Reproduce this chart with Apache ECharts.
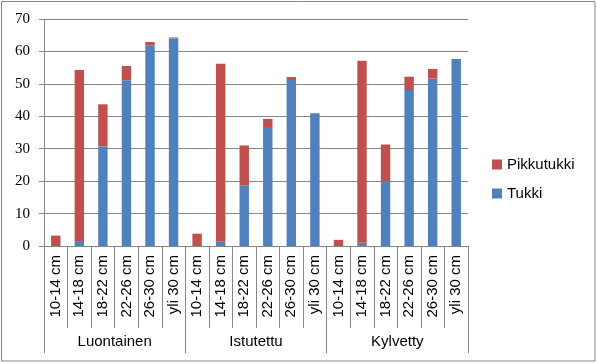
<!DOCTYPE html>
<html>
<head>
<meta charset="utf-8">
<script src="https://cdn.jsdelivr.net/npm/echarts@6/dist/echarts.min.js"></script>
<style>
html,body{margin:0;padding:0;background:#fff;}
#c{width:597px;height:363px;}
</style>
</head>
<body>
<div id="c"></div>
<script>
const sizeClasses = ['10-14 cm','14-18 cm','18-22 cm','22-26 cm','26-30 cm','yli 30 cm'];
const groups = ['Luontainen','Istutettu','Kylvetty'];
const yTicks = [0,10,20,30,40,50,60,70];
// values per group, in sizeClasses order
const tukkiLuontainen = [0, 1.5, 30.7, 51.1, 61.8, 64.1];
const pikkuLuontainen = [3.2, 52.8, 13.0, 4.4, 1.1, 0.2];
const tukkiIstutettu = [0, 1.3, 18.6, 36.4, 51.2, 40.9];
const pikkuIstutettu = [3.8, 54.9, 12.4, 2.8, 0.9, 0];
const tukkiKylvetty = [0, 1.0, 19.9, 48.1, 51.6, 57.7];
const pikkuKylvetty = [1.9, 56.1, 11.4, 4.1, 3.0, 0];

const categories = [].concat(sizeClasses, sizeClasses, sizeClasses);
const tukki = [].concat(tukkiLuontainen, tukkiIstutettu, tukkiKylvetty);
const pikkutukki = [].concat(pikkuLuontainen, pikkuIstutettu, pikkuKylvetty);

const gray = '#868686';
const chart = echarts.init(document.getElementById('c'));
chart.setOption({
  animation: false,
  backgroundColor: '#fff',
  graphic: [{
    type: 'rect', shape: {x: 1.5, y: 1.5, width: 593.5, height: 359.5},
    style: {fill: 'none', stroke: gray, lineWidth: 1}, silent: true, z: -1
  }],
  grid: {left: 44, right: 129, top: 19, bottom: 117},
  legend: {
    orient: 'vertical', left: 492, top: 157, padding: 0,
    itemWidth: 10, itemHeight: 10, itemGap: 14,
    icon: 'rect',
    data: ['Pikkutukki', 'Tukki'],
    textStyle: {fontFamily: 'Liberation Sans', fontSize: 15, color: '#000'}
  },
  xAxis: [{
    type: 'category', data: categories, position: 'bottom',
    axisLine: {lineStyle: {color: gray}},
    axisTick: {show: true, length: 82, lineStyle: {color: gray}},
    axisLabel: {interval: 0, rotate: 90, margin: 9, fontFamily: 'Liberation Sans', fontSize: 15, color: '#000'}
  }, {
    type: 'category', data: groups, position: 'bottom', offset: 0,
    axisLine: {show: false},
    axisTick: {show: true, length: 107, lineStyle: {color: gray}},
    axisLabel: {interval: 0, margin: 88, fontFamily: 'Liberation Sans', fontSize: 15, color: '#000'}
  }],
  yAxis: {
    type: 'value', min: yTicks[0], max: yTicks[yTicks.length - 1], interval: 10,
    axisLine: {show: true, lineStyle: {color: gray}},
    axisTick: {show: true, length: 5, lineStyle: {color: gray}},
    axisLabel: {margin: 14, fontFamily: 'Liberation Serif', fontSize: 15, color: '#000'},
    splitLine: {lineStyle: {color: gray}}
  },
  series: [{
    name: 'Tukki', type: 'bar', stack: 'a', data: tukki, barWidth: '40%',
    itemStyle: {color: '#4F81BD'}
  }, {
    name: 'Pikkutukki', type: 'bar', stack: 'a', data: pikkutukki, barWidth: '40%',
    itemStyle: {color: '#C0504D'}
  }]
});
</script>
</body>
</html>
